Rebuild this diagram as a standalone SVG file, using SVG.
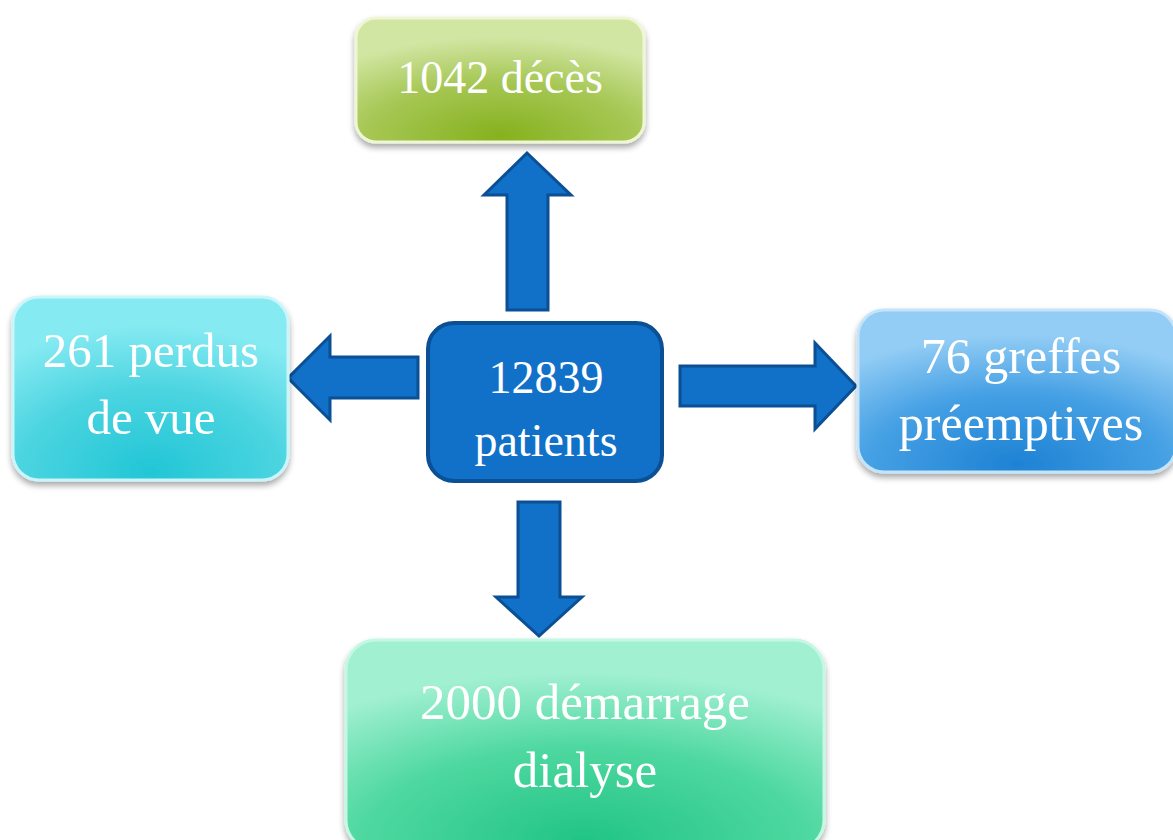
<svg xmlns="http://www.w3.org/2000/svg" width="1173" height="840" viewBox="0 0 1173 840">
<defs>
<radialGradient id="gGreen" cx="0.5" cy="1" r="0.85" fx="0.5" fy="0.95">
<stop offset="0" stop-color="#86B11E"/><stop offset="0.55" stop-color="#A6C754"/><stop offset="1" stop-color="#D2E6A4"/>
</radialGradient>
<radialGradient id="gCyan" cx="0.5" cy="1" r="0.85" fx="0.5" fy="0.95">
<stop offset="0" stop-color="#22C6D6"/><stop offset="0.55" stop-color="#4AD4E0"/><stop offset="1" stop-color="#86EAF2"/>
</radialGradient>
<radialGradient id="gBlue" cx="0.5" cy="1" r="0.85" fx="0.5" fy="0.95">
<stop offset="0" stop-color="#1E82D4"/><stop offset="0.55" stop-color="#45A0E4"/><stop offset="1" stop-color="#93CDF5"/>
</radialGradient>
<radialGradient id="gMint" cx="0.5" cy="1" r="0.85" fx="0.5" fy="0.95">
<stop offset="0" stop-color="#22C486"/><stop offset="0.55" stop-color="#4ED8A0"/><stop offset="1" stop-color="#A2F0D2"/>
</radialGradient>
<filter id="sh" x="-10%" y="-10%" width="120%" height="130%">
<feGaussianBlur in="SourceAlpha" stdDeviation="3"/>
<feOffset dy="4"/>
<feComponentTransfer><feFuncA type="linear" slope="0.35"/></feComponentTransfer>
<feMerge><feMergeNode/><feMergeNode in="SourceGraphic"/></feMerge>
</filter>
</defs>
<style>
.box{stroke-width:3;filter:url(#sh)}
.t{font-family:"Liberation Serif","DejaVu Serif",serif;fill:#FFFFFF;text-anchor:middle}
.arr{fill:#1170C8;stroke:#0B4F94;stroke-width:3;stroke-linejoin:miter}
</style>
<rect width="1173" height="840" fill="#FFFFFF"/>
<g id="connectors">
<polygon class="arr" points="507,310 548,310 548,195 571,195 527,153 484,195 507,195"/>
<polygon class="arr" points="418,357 418,398 330,398 330,420 288,378 330,336 330,357"/>
<polygon class="arr" points="680,366 680,406 815,406 815,429 856,386 815,343 815,366"/>
<polygon class="arr" points="518,502 560,502 560,597 582,597 539,636 496,597 518,597"/>
</g>
<g id="n-deces">
<rect class="box" x="356" y="18" width="288" height="124" rx="20" fill="url(#gGreen)" stroke="#EEF6D6"/>
<text class="t" x="500" y="93" font-size="46">1042 décès</text>
</g>
<g id="n-perdus">
<rect class="box" x="13" y="297" width="275" height="183" rx="26" fill="url(#gCyan)" stroke="#C8F6FA"/>
<text class="t" x="151" y="367" font-size="49">261 perdus</text>
<text class="t" x="151" y="434" font-size="49">de vue</text>
</g>
<g id="n-patients">
<rect x="428" y="323" width="234" height="158" rx="26" fill="#1170C8" stroke="#0B4F94" stroke-width="4"/>
<text class="t" x="546" y="393" font-size="46">12839</text>
<text class="t" x="546" y="456" font-size="46">patients</text>
</g>
<g id="n-greffes">
<rect class="box" x="858" y="310" width="318" height="162" rx="26" fill="url(#gBlue)" stroke="#C4E4FA"/>
<text class="t" x="1021" y="373" font-size="50">76 greffes</text>
<text class="t" x="1021" y="440" font-size="50">préemptives</text>
</g>
<g id="n-dialyse">
<rect class="box" x="346" y="640" width="478" height="210" rx="30" fill="url(#gMint)" stroke="#C4F8E4"/>
<text class="t" x="585" y="719" font-size="51">2000 démarrage</text>
<text class="t" x="585" y="787" font-size="51">dialyse</text>
</g>
</svg>
